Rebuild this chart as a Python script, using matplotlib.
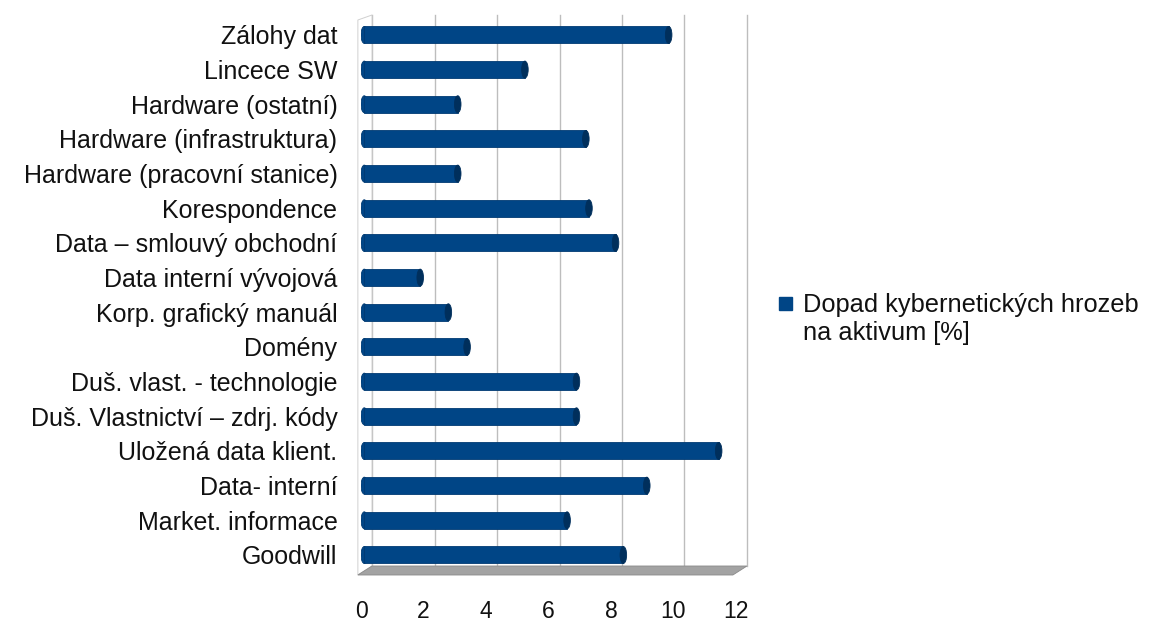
import matplotlib.pyplot as plt
import matplotlib.transforms as mtransforms
from matplotlib.patches import Ellipse, Polygon, Rectangle

# Categories top to bottom, values in %
categories = ['Zálohy dat', 'Lincece SW', 'Hardware (ostatní)',
              'Hardware (infrastruktura)', 'Hardware (pracovní stanice)',
              'Korespondence', 'Data – smlouvý obchodní',
              'Data interní vývojová', 'Korp. grafický manuál', 'Domény',
              'Duš. vlast. - technologie', 'Duš. Vlastnictví – zdrj. kódy',
              'Uložená data klient.', 'Data- interní', 'Market. informace',
              'Goodwill']
values = [9.95, 5.35, 3.2, 7.3, 3.2, 7.4, 8.25, 2.0, 2.9, 3.5,
          7.0, 7.0, 11.55, 9.25, 6.7, 8.5]
x_ticks = [0, 2, 4, 6, 8, 10, 12]
series_name = 'Dopad kybernetických hrozeb\nna aktivum [%]'

BAR = '#004586'
CAP = '#002f5c'
W, H = 1149, 621

plt.rcParams['font.family'] = ['Liberation Sans', 'DejaVu Sans']

fig = plt.figure(figsize=(W / 100, H / 100), dpi=100)
ax = fig.add_axes([361 / W, (H - 575) / H, 375 / W, 555 / H])

n = len(categories)
ypos = [n - 1 - i for i in range(n)]
bh = 0.49
cw = 0.21

ax.set_xlim(0, 12)
ax.set_ylim(-0.577, n - 1 + 0.43)

# 3D look: back wall shifted right/up
sx = 11 / 31.25
sy = 9 / 555
trans = mtransforms.blended_transform_factory(ax.transData, ax.transAxes)
for t in x_ticks:
    ax.plot([t + sx, t + sx], [sy, 560 / 555], transform=trans,
            color='#bdbdbd', lw=1, clip_on=False, zorder=0)

wall = Polygon([(-0.1, 0), (-0.1, 1.0), (sx, 560 / 555), (sx, sy)],
               closed=True, transform=trans, facecolor='white',
               edgecolor='#d0d0d0', lw=0.7, clip_on=False, zorder=0)
ax.add_patch(wall)

floor = Polygon([(-0.1, 0), (11.9, 0), (12 + sx, sy), (sx, sy)],
                closed=True, transform=trans, facecolor='#a3a3a3',
                edgecolor='#8a8a8a', lw=0.6, clip_on=False, zorder=1)
ax.add_patch(floor)

# cylinder-like bars
for y, v in zip(ypos, values):
    ax.barh(y, v - cw, left=cw / 2, height=bh, color=BAR,
            edgecolor='#003a72', lw=0.6, zorder=3)
    ax.add_patch(Ellipse((cw / 2, y), cw, bh, facecolor=BAR,
                         edgecolor='#003a72', lw=0.6, zorder=2))
    ax.add_patch(Ellipse((v - cw / 2, y), cw, bh, facecolor=CAP,
                         edgecolor=CAP, lw=0.6, zorder=4))

ax.set_yticks(ypos)
ax.set_yticklabels(categories, fontsize=18, color='#111111')
ax.set_xticks(x_ticks)
ax.set_xticklabels([str(t) for t in x_ticks], fontsize=16.5, color='#111111')
ax.tick_params(axis='y', length=0, pad=17)
ax.tick_params(axis='x', length=0, pad=18)
for s in ax.spines.values():
    s.set_visible(False)

# legend
fig.add_artist(Rectangle((779 / W, 1 - 310 / H), 13 / W, 13 / H,
                         transform=fig.transFigure, facecolor=BAR,
                         edgecolor=BAR))
fig.text(803 / W, 1 - 293 / H, series_name, fontsize=18.3,
         color='#111111', va='top', ha='left', linespacing=1.2)

fig.savefig('out.png', dpi=100)
